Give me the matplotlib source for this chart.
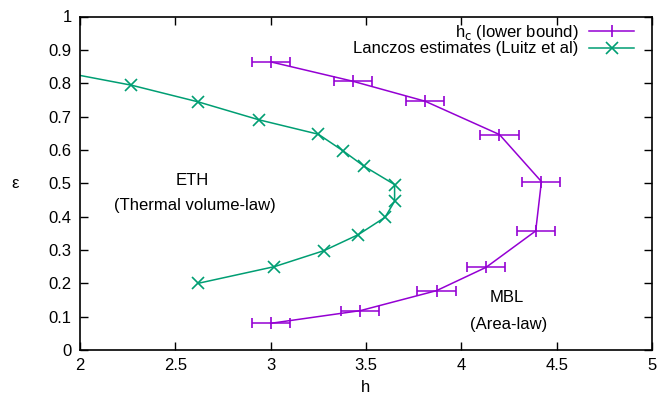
import matplotlib
matplotlib.use("Agg")
import matplotlib.pyplot as plt
from matplotlib.lines import Line2D

# h_c (lower bound) with x error bars
hc_h = [3.00, 3.47, 3.87, 4.13, 4.39, 4.42, 4.20, 3.81, 3.43, 3.00]
hc_eps = [0.08, 0.118, 0.178, 0.248, 0.357, 0.505, 0.646, 0.746, 0.806, 0.864]
hc_err = [0.1] * len(hc_h)

# Lanczos estimates (Luitz et al)
lz_h = [2.62, 3.02, 3.28, 3.46, 3.60, 3.65, 3.65, 3.49, 3.38, 3.25, 2.94, 2.62, 2.27, 1.80]
lz_eps = [0.20, 0.25, 0.298, 0.346, 0.398, 0.446, 0.496, 0.551, 0.597, 0.647, 0.69, 0.744, 0.794, 0.845]

xticks = [2, 2.5, 3, 3.5, 4, 4.5, 5]
yticks = [0, 0.1, 0.2, 0.3, 0.4, 0.5, 0.6, 0.7, 0.8, 0.9, 1]

purple = "#9400d3"
green = "#009e73"
fs = 12

plt.rcParams['font.family'] = ['Liberation Sans', 'DejaVu Sans']
fig = plt.figure(figsize=(6.59, 3.97), dpi=100)
ax = fig.add_axes([80/659, 1 - 350/397, (652-80)/659, (350-16.5)/397])

ax.errorbar(hc_h, hc_eps, xerr=hc_err, color=purple, lw=1.1, marker='|',
            markersize=9, mew=1.2, capsize=3.5, capthick=1.1, elinewidth=1.1)
ax.plot(lz_h, lz_eps, color=green, lw=1.1, marker='x', markersize=8, mew=1.2)

ax.set_xlim(2, 5)
ax.set_ylim(0, 1)
ax.set_xticks(xticks)
ax.set_xticklabels([f"{t:g}" for t in xticks])
ax.set_yticks(yticks)
ax.set_yticklabels([f"{t:g}" for t in yticks])
ax.tick_params(direction='in', top=True, right=True, length=6, width=1,
               labelsize=fs, pad=6)
for s in ax.spines.values():
    s.set_linewidth(1.2)

ax.set_xlabel('h', fontsize=fs, labelpad=5)
ax.set_ylabel('ε', fontsize=fs, rotation=0, va='center')
ax.yaxis.set_label_coords(-0.113, 0.5)

ax.text(2.59, 0.509, 'ETH', ha='center', va='center', fontsize=fs)
ax.text(2.60, 0.434, '(Thermal volume-law)', ha='center', va='center', fontsize=fs)
ax.text(4.24, 0.157, 'MBL', ha='center', va='center', fontsize=fs)
ax.text(4.25, 0.075, '(Area-law)', ha='center', va='center', fontsize=fs)

handles = [
    Line2D([], [], color=purple, lw=1.1, marker='|', markersize=9, mew=1.2),
    Line2D([], [], color=green, lw=1.1, marker='x', markersize=8, mew=1.2),
]
labels = [r'h$_\mathrm{c}$ (lower bound)', 'Lanczos estimates (Luitz et al)']
leg = ax.legend(handles, labels, loc='upper right', frameon=False, fontsize=fs,
                markerfirst=False, handlelength=2.7, handletextpad=0.65,
                borderaxespad=0.0, labelspacing=0.0, borderpad=0.3,
                bbox_to_anchor=(1 - 13/572, 1 - 1/333.5))
for t in leg.get_texts():
    t.set_ha('right')

fig.savefig('out.png', dpi=100)
